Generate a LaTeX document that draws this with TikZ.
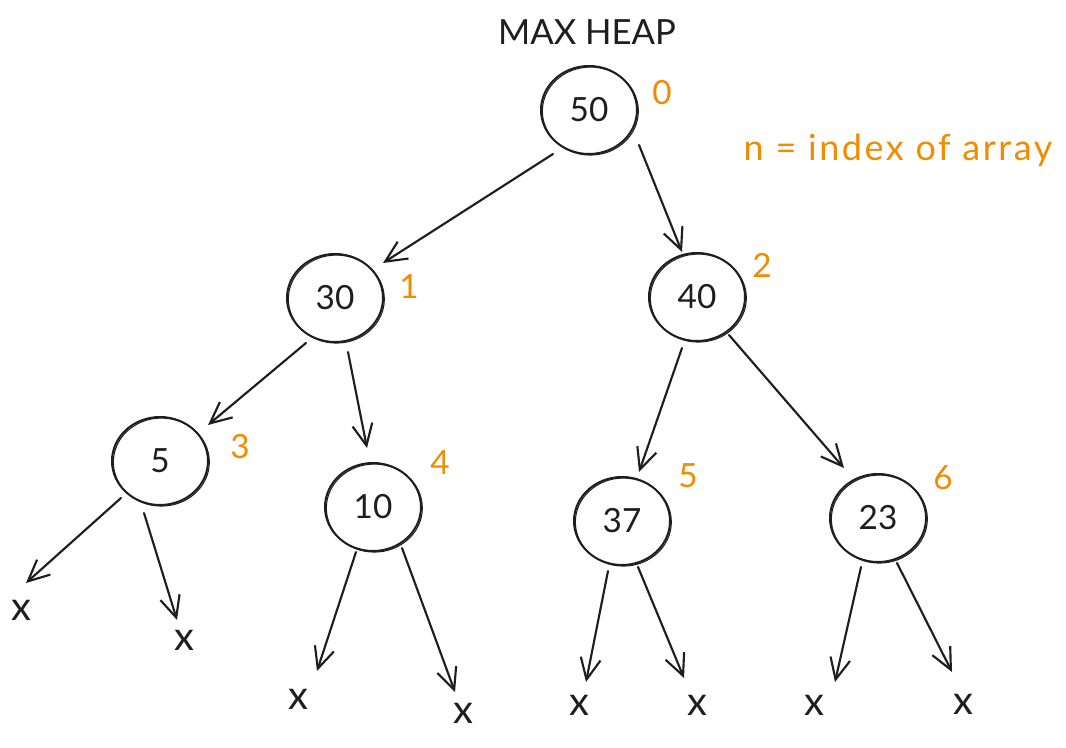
\documentclass[tikz,border=0pt]{standalone}
\usepackage{fontspec}
\setmainfont{Lato}
\newfontfamily\notefont[LetterSpace=7]{Lato}
\usetikzlibrary{arrows.meta,shapes.geometric,calc}
\definecolor{exorange}{RGB}{240,140,0}
\definecolor{ink}{RGB}{30,30,30}
\begin{document}
\begin{tikzpicture}[x=0.75pt,y=-0.75pt,
  heapnode/.style={ellipse, draw=ink, line width=1.5pt, minimum width=72pt, minimum height=66pt,
    inner sep=0pt, font=\fontsize{25}{30}\selectfont, text=ink,
    postaction={draw=ink, line width=0.8pt, transform canvas={shift={(1pt,-0.8pt)}}}},
  idx/.style={text=exorange, font=\fontsize{25}{30}\selectfont, inner sep=0pt},
  leaf/.style={text=ink, font=\fontsize{30}{30}\selectfont, inner sep=0pt},
  title/.style={text=ink, font=\fontsize{26}{30}\selectfont, inner sep=0pt},
  note/.style={text=exorange, font=\notefont\fontsize{27}{30}\selectfont, inner sep=0pt},
  arr/.style={draw=ink, line width=1.6pt, line cap=round,
    -{Straight Barb[length=16pt, width=15pt, line width=1.6pt]}}
]
\useasboundingbox (0,0) rectangle (1066,748);
\fill[white] (0,0) rectangle (1066,748);

% title and note
\node[title] (title) at (587,32) {MAX HEAP};
\node[note] (note) at (898,150) {n = index of array};

% heap nodes
\node[heapnode] (n50) at (589,110) {50};
\node[heapnode] (n30) at (335,298) {30};
\node[heapnode] (n40) at (697,297) {40};
\node[heapnode] (n5)  at (160,461) {5};
\node[heapnode] (n10) at (373,507) {10};
\node[heapnode] (n37) at (622,521) {37};
\node[heapnode] (n23) at (878,518) {23};

% index labels
\node[idx] (i0) at (662,93) {0};
\node[idx] (i1) at (409,287) {1};
\node[idx] (i2) at (762,265) {2};
\node[idx] (i3) at (240,447) {3};
\node[idx] (i4) at (440,463) {4};
\node[idx] (i5) at (688,476) {5};
\node[idx] (i6) at (943,478) {6};

% empty leaves
\node[leaf] (x1) at (21,610) {x};
\node[leaf] (x2) at (184,640) {x};
\node[leaf] (x3) at (298,699) {x};
\node[leaf] (x4) at (463,713) {x};
\node[leaf] (x5) at (579,705) {x};
\node[leaf] (x6) at (697,705) {x};
\node[leaf] (x7) at (814,705) {x};
\node[leaf] (x8) at (963,704) {x};

% connectors
\draw[arr] ($(n50)+(-36,44)$) -- ($(n30)+(48,-35)$);
\draw[arr] ($(n50)+(50,35)$)  -- ($(n40)+(-15,-45)$);
\draw[arr] ($(n30)+(-29,45)$) -- ($(n5)+(48,-36)$);
\draw[arr] ($(n30)+(13,54)$)  -- ($(n10)+(-6,-59)$);
\draw[arr] ($(n40)+(-15,51)$) -- ($(n37)+(17,-49)$);
\draw[arr] ($(n40)+(32,38)$)  -- ($(n23)+(-34,-50)$);
\draw[arr] ($(n5)+(-39,37)$)  -- ($(x1)+(5,-27)$);
\draw[arr] ($(n5)+(-16,52)$)  -- ($(x2)+(-7,-20)$);
\draw[arr] ($(n10)+(-17,45)$) -- ($(x3)+(19,-28)$);
\draw[arr] ($(n10)+(29,41)$)  -- ($(x4)+(-8,-21)$);
\draw[arr] ($(n37)+(-14,50)$) -- ($(x5)+(7,-23)$);
\draw[arr] ($(n37)+(16,46)$)  -- ($(x6)+(-13,-27)$);
\draw[arr] ($(n23)+(-17,49)$) -- ($(x7)+(21,-23)$);
\draw[arr] ($(n23)+(19,45)$)  -- ($(x8)+(-11,-32)$);
\end{tikzpicture}
\end{document}
